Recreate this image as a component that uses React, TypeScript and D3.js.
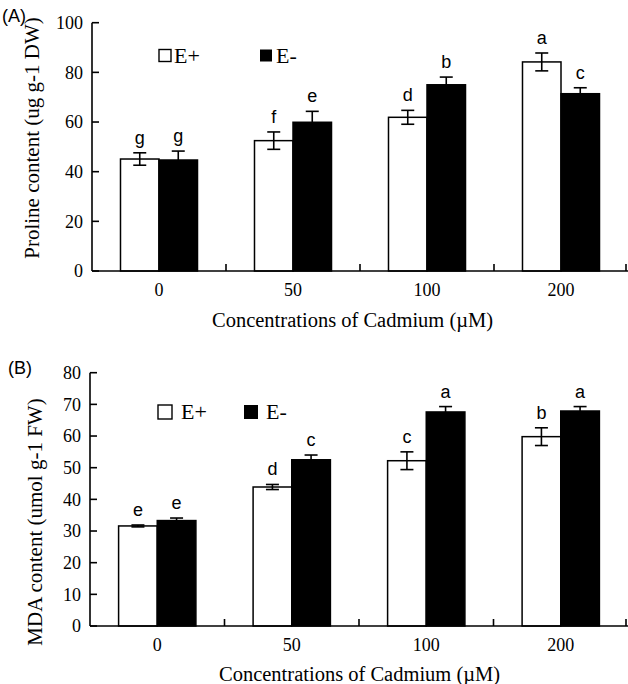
import React, { useEffect, useRef } from 'react';
import * as d3 from 'd3';

const categories = ['0', '50', '100', '200'];
const seriesNames = ['E+', 'E-'];

// (A) proline
const prolineEplus = [45.1, 52.5, 61.9, 84.2];
const prolineEminus = [44.7, 59.9, 75.0, 71.4];
const prolineErrEplus = [2.5, 3.5, 2.8, 3.6];
const prolineErrEminus = [3.6, 4.4, 3.1, 2.4];
const prolineLettersEplus = ['g', 'f', 'd', 'a'];
const prolineLettersEminus = ['g', 'e', 'b', 'c'];
const prolineTicks = [0, 20, 40, 60, 80, 100];

// (B) MDA
const mdaEplus = [31.6, 43.9, 52.2, 59.8];
const mdaEminus = [33.3, 52.5, 67.6, 67.9];
const mdaErrEplus = [0.3, 0.8, 2.8, 2.8];
const mdaErrEminus = [0.8, 1.5, 1.7, 1.4];
const mdaLettersEplus = ['e', 'd', 'c', 'b'];
const mdaLettersEminus = ['e', 'c', 'a', 'a'];
const mdaTicks = [0, 10, 20, 30, 40, 50, 60, 70, 80];

const SERIF = '"Liberation Serif", "Times New Roman", serif';
const SANS = '"Liberation Sans", Arial, sans-serif';

interface PanelCfg {
  tag: string;
  tagX: number;
  tagY: number;
  yTitle: string;
  yTitleX: number;
  yTitleY: number;
  xTitleX: number;
  xTitleY: number;
  left: number;
  right: number;
  bottom: number;
  top: number;
  ticks: number[];
  values: number[][];
  errors: number[][];
  letters: string[][];
  legend: { sq: number; y: number; x1: number; t1: number; x2: number; t2: number; base: number };
}

function drawPanel(svg: d3.Selection<SVGSVGElement, unknown, null, undefined>, cfg: PanelCfg) {
  const g = svg.append('g');
  const ink = '#000';

  const x0 = d3.scaleBand<string>().domain(categories).range([cfg.left, cfg.right]).padding(0);
  const x1 = d3.scaleBand<string>().domain(seriesNames).range([0, x0.bandwidth()]).paddingInner(0).paddingOuter(0.74);
  const yMax = cfg.ticks[cfg.ticks.length - 1];
  const y = d3.scaleLinear().domain([0, yMax]).range([cfg.bottom, cfg.top]);

  // bars
  seriesNames.forEach((s, si) => {
    g.append('g')
      .selectAll('rect')
      .data(cfg.values[si])
      .enter().append('rect')
      .attr('x', (_, i) => x0(categories[i])! + x1(s)!)
      .attr('y', d => y(d))
      .attr('width', x1.bandwidth())
      .attr('height', d => y(0) - y(d))
      .attr('fill', si === 0 ? '#fff' : ink)
      .attr('stroke', ink)
      .attr('stroke-width', 1.5);
  });

  // error bars + letters
  seriesNames.forEach((s, si) => {
    const cx = (i: number) => x0(categories[i])! + x1(s)! + x1.bandwidth() / 2;
    const eg = g.append('g').attr('stroke', ink).attr('stroke-width', 1.6);
    cfg.values[si].forEach((v, i) => {
      const e = cfg.errors[si][i];
      const xc = cx(i);
      eg.append('line').attr('x1', xc).attr('x2', xc).attr('y1', y(v - e)).attr('y2', y(v + e));
      eg.append('line').attr('x1', xc - 6.5).attr('x2', xc + 6.5).attr('y1', y(v + e)).attr('y2', y(v + e));
      eg.append('line').attr('x1', xc - 6.5).attr('x2', xc + 6.5).attr('y1', y(v - e)).attr('y2', y(v - e))
        .attr('stroke', si === 0 ? ink : 'none');
      g.append('text')
        .attr('x', xc)
        .attr('y', y(v + e) - 9)
        .attr('text-anchor', 'middle')
        .attr('font-family', SANS)
        .attr('font-size', 18)
        .attr('fill', ink)
        .text(cfg.letters[si][i]);
    });
  });

  // axes
  g.append('line')
    .attr('x1', cfg.left).attr('x2', cfg.left)
    .attr('y1', y(yMax)).attr('y2', y(0))
    .attr('stroke', ink).attr('stroke-width', 1.6);
  g.append('line')
    .attr('x1', cfg.left).attr('x2', cfg.right)
    .attr('y1', y(0)).attr('y2', y(0))
    .attr('stroke', ink).attr('stroke-width', 1.6);

  g.selectAll('.ytick')
    .data(cfg.ticks)
    .enter().append('line')
    .attr('x1', cfg.left).attr('x2', cfg.left + 7)
    .attr('y1', d => y(d)).attr('y2', d => y(d))
    .attr('stroke', ink).attr('stroke-width', 1.6);
  g.selectAll('.ylab')
    .data(cfg.ticks)
    .enter().append('text')
    .attr('x', cfg.left - 9)
    .attr('y', d => y(d))
    .attr('dy', '0.35em')
    .attr('text-anchor', 'end')
    .attr('font-family', SERIF)
    .attr('font-size', 18)
    .text(d => d);

  // x ticks sit on the group boundaries
  g.selectAll('.xtick')
    .data(categories)
    .enter().append('line')
    .attr('x1', d => Math.min(x0(d)! + x0.bandwidth(), cfg.right - 2))
    .attr('x2', d => Math.min(x0(d)! + x0.bandwidth(), cfg.right - 2))
    .attr('y1', y(0)).attr('y2', y(0) - 7)
    .attr('stroke', ink).attr('stroke-width', 1.6);
  g.selectAll('.xlab')
    .data(categories)
    .enter().append('text')
    .attr('x', d => x0(d)! + x0.bandwidth() / 2)
    .attr('y', y(0) + 25)
    .attr('text-anchor', 'middle')
    .attr('font-family', SERIF)
    .attr('font-size', 18)
    .text(d => d);

  // titles
  g.append('text')
    .attr('x', cfg.xTitleX).attr('y', cfg.xTitleY)
    .attr('font-family', SERIF).attr('font-size', 20.5)
    .text('Concentrations of Cadmium (\u00b5M)');
  g.append('text')
    .attr('transform', `translate(${cfg.yTitleX},${cfg.yTitleY}) rotate(-90)`)
    .attr('text-anchor', 'middle')
    .attr('font-family', SERIF).attr('font-size', 21)
    .text(cfg.yTitle);
  g.append('text')
    .attr('x', cfg.tagX).attr('y', cfg.tagY)
    .attr('font-family', SANS).attr('font-size', 18)
    .text(cfg.tag);

  // legend
  const L = cfg.legend;
  g.append('rect').attr('x', L.x1).attr('y', L.y).attr('width', L.sq).attr('height', L.sq)
    .attr('fill', '#fff').attr('stroke', ink).attr('stroke-width', 1.4);
  g.append('text').attr('x', L.t1).attr('y', L.base)
    .attr('font-family', SERIF).attr('font-size', 22).text(seriesNames[0]);
  g.append('rect').attr('x', L.x2).attr('y', L.y).attr('width', L.sq).attr('height', L.sq)
    .attr('fill', ink);
  g.append('text').attr('x', L.t2).attr('y', L.base)
    .attr('font-family', SERIF).attr('font-size', 22).text(seriesNames[1]);
}

export default function App() {
  const svgRef = useRef<SVGSVGElement>(null);

  useEffect(() => {
    if (!svgRef.current) return;
    const svg = d3.select(svgRef.current);
    svg.selectAll('*').remove();

    drawPanel(svg, {
      tag: '(A)', tagX: 2, tagY: 22,
      yTitle: 'Proline content (ug g-1 DW)', yTitleX: 39, yTitleY: 138,
      xTitleX: 212, xTitleY: 327,
      left: 92, right: 628, bottom: 271, top: 22.7,
      ticks: prolineTicks,
      values: [prolineEplus, prolineEminus],
      errors: [prolineErrEplus, prolineErrEminus],
      letters: [prolineLettersEplus, prolineLettersEminus],
      legend: { sq: 12, y: 49.5, x1: 159, t1: 174, x2: 260, t2: 276, base: 63 },
    });

    drawPanel(svg, {
      tag: '(B)', tagX: 8, tagY: 374,
      yTitle: 'MDA content (umol g-1 FW)', yTitleX: 42, yTitleY: 522,
      xTitleX: 219, xTitleY: 681,
      left: 90, right: 628, bottom: 626, top: 372.7,
      ticks: mdaTicks,
      values: [mdaEplus, mdaEminus],
      errors: [mdaErrEplus, mdaErrEminus],
      letters: [mdaLettersEplus, mdaLettersEminus],
      legend: { sq: 14, y: 405, x1: 158, t1: 181, x2: 244, t2: 266, base: 419 },
    });
  }, []);

  return (
    <svg
      ref={svgRef}
      width={628}
      height={684}
      style={{ position: 'absolute', left: 0, top: 0, background: '#fff' }}
    />
  );
}
